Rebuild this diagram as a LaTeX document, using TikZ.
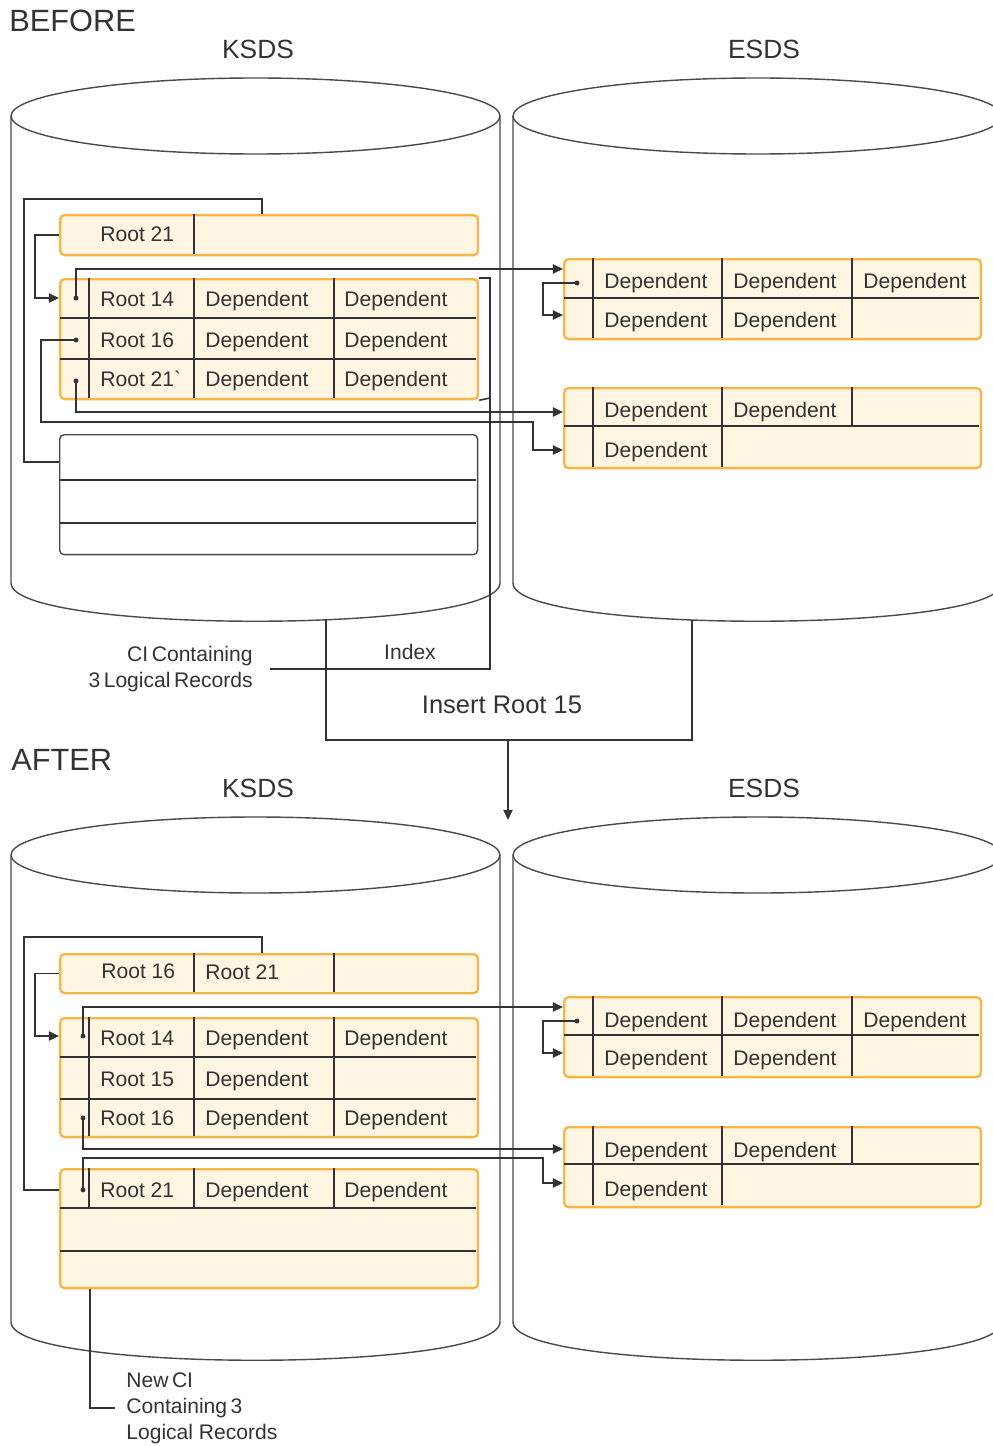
\documentclass[tikz,border=0pt]{standalone}
\usepackage{fontspec}
\setmainfont{Liberation Sans}
\usepackage{xcolor}
\usetikzlibrary{arrows.meta}
\definecolor{recfill}{HTML}{FEF5E3}
\definecolor{recedge}{HTML}{F6B545}
\definecolor{inkgray}{HTML}{333333}
\definecolor{wallgray}{HTML}{4A4A4A}

\begin{document}
\begin{tikzpicture}[x=0.02cm, y=-0.02cm,
    >={Triangle[length=5.7pt, width=5.2pt]},
    cyl/.style={draw=wallgray, line width=0.8pt},
    rec/.style={draw=recedge, fill=recfill, line width=1.3pt, rounded corners=2.5pt},
    emptyrec/.style={draw=wallgray, fill=white, line width=0.8pt, rounded corners=2.5pt},
    kbox/.style={anchor=north west, inner sep=0pt, minimum width=8.36cm},
    ebox/.style={anchor=north west, inner sep=0pt, minimum width=8.34cm, minimum height=1.6cm},
    divider/.style={draw=inkgray, line width=0.8pt},
    link/.style={draw=inkgray, line width=0.9pt},
    arrow/.style={link, ->},
    cell/.style={anchor=west, inner sep=0pt, text=inkgray, font=\fontsize{12}{14}\selectfont, text height=9pt, text depth=0.4pt},
    note/.style={inner sep=0pt, text=inkgray, font=\fontsize{12}{14.7}\selectfont},
    phase/.style={anchor=west, inner sep=0pt, text=inkgray, font=\fontsize{17.5}{20}\selectfont},
    dsname/.style={inner sep=0pt, text=inkgray, font=\fontsize{15}{18}\selectfont},
]
\useasboundingbox (0,0) rectangle (992,1446);

% cylinders
\foreach \dy in {0,739} \foreach \cx in {255.5,757.5} {
  \draw[cyl] (\cx,116+\dy) ellipse [x radius=244.5, y radius=38];
  \draw[cyl] (\cx-244.5,116+\dy) -- (\cx-244.5,583+\dy) .. controls (\cx-244.5,634+\dy) and (\cx+244.5,634+\dy) .. (\cx+244.5,583+\dy) -- (\cx+244.5,116+\dy);
}

% BEFORE
\node[phase] (before) at (9,21) {BEFORE};
\node[dsname] (ksdsA) at (258,49) {KSDS};
\node[dsname] (esdsA) at (764,49) {ESDS};
\node[rec, kbox, minimum height=0.8cm] (idxA) at (59,214) {};
\node[rec, kbox, minimum height=2.4cm] (ciA) at (59,278) {};
\node[emptyrec, kbox, minimum height=2.4cm] (freeA) at (59,434) {};
\node[rec, ebox] (esA1) at (563,258) {};
\node[rec, ebox] (esA2) at (563,387) {};
\draw[divider] (194,214) -- (194,254);
\draw[divider] (60,318) -- (476,318) (60,359) -- (476,359);
\foreach \x in {89,194,334} \draw[divider] (\x,278) -- (\x,398);
\draw[divider] (60,480) -- (476,480) (60,523) -- (476,523);
\draw[divider] (564,298) -- (979,298);
\foreach \x in {593,722,852} \draw[divider] (\x,258) -- (\x,338);
\draw[divider] (564,426) -- (979,426) (593,387) -- (593,467) (722,387) -- (722,467) (852,387) -- (852,426);

\node[cell] (rA0) at (100,234) {Root 21};
\node[cell] (rA1) at (100,299) {Root 14};
\node[cell] (rA2) at (100,340) {Root 16};
\node[cell] (rA3) at (100,379) {Root 21\textasciigrave};
\foreach \r/\y in {1/299, 2/340, 3/379} {
  \node[cell] (dA\r a) at (205,\y) {Dependent}; \node[cell] (dA\r b) at (344,\y) {Dependent};
}
\node[cell] (eA1a) at (604,281) {Dependent}; \node[cell] (eA1b) at (733,281) {Dependent}; \node[cell] (eA1c) at (863,281) {Dependent};
\node[cell] (eA2a) at (604,320) {Dependent}; \node[cell] (eA2b) at (733,320) {Dependent};
\node[cell] (eA3a) at (604,410) {Dependent}; \node[cell] (eA3b) at (733,410) {Dependent};
\node[cell] (eA4a) at (604,450) {Dependent};

\coordinate (pA14) at (76,298); \coordinate (pA16) at (76,340); \coordinate (pA21) at (76,381); \coordinate (pEA) at (577,283);
\coordinate (inA1) at (563,269); \coordinate (inA2) at (563,315); \coordinate (inA3) at (563,412); \coordinate (inA4) at (563,450);
\coordinate (kA) at (262,214); \coordinate (fA) at (59,462);
\draw[link] (kA) |- (24,199) |- (fA);
\draw[arrow] (idxA.west) -| (35,298) -- (ciA.west |- pA14);
\draw[arrow] (pA14) |- (inA1);
\draw[arrow] (pA16) -| (41,422) -| (533,450) -- (inA4);
\draw[arrow] (pA21) |- (inA3);
\draw[arrow] (pEA) -| (543,315) -- (inA2);

\node[note] (idxlbl) at (410,652) {Index};
\node[note, anchor=east, align=right] (cilbl) at (253,669) {CI\,Containing\\3\,Logical\,Records};
\draw[link] (ciA.north east) -- (490,278) |- ([xshift=0.34cm]cilbl.east);
\draw[link] (ciA.south east) -- (490,398);

\node[dsname, font=\fontsize{14.5}{17}\selectfont] (ins) at (502,705) {Insert Root 15};
\coordinate (insL) at (326,620); \coordinate (insR) at (692,620); \coordinate (insA) at (508,740); \coordinate (insB) at (508,820);
\draw[link] (insL) |- (692,740) -- (insR);
\draw[arrow] (insA) -- (insB);

% AFTER
\node[phase] (after) at (11,760) {AFTER};
\node[dsname] (ksdsB) at (258,788) {KSDS};
\node[dsname] (esdsB) at (764,788) {ESDS};
\node[rec, kbox, minimum height=0.78cm] (idxB) at (59,953) {};
\node[rec, kbox, minimum height=2.38cm] (ciB) at (59,1017) {};
\node[rec, kbox, minimum height=2.38cm] (newB) at (59,1168) {};
\node[rec, ebox] (esB1) at (563,996) {};
\node[rec, ebox] (esB2) at (563,1126) {};
\draw[divider] (194,953) -- (194,992) (334,953) -- (334,992);
\draw[divider] (60,1057) -- (476,1057) (60,1099) -- (476,1099);
\foreach \x in {89,194,334} \draw[divider] (\x,1017) -- (\x,1136);
\draw[divider] (60,1208) -- (476,1208) (60,1251) -- (476,1251);
\foreach \x in {89,194,334} \draw[divider] (\x,1168) -- (\x,1208);
\draw[divider] (564,1035) -- (979,1035);
\foreach \x in {593,722,852} \draw[divider] (\x,996) -- (\x,1076);
\draw[divider] (564,1164) -- (979,1164) (593,1126) -- (593,1205) (722,1126) -- (722,1205) (852,1126) -- (852,1164);

\node[cell] (rB0) at (101,971) {Root 16}; \node[cell] (rB0b) at (205,972) {Root 21};
\node[cell] (rB1) at (100,1038) {Root 14}; \node[cell] (dB1a) at (205,1038) {Dependent}; \node[cell] (dB1b) at (344,1038) {Dependent};
\node[cell] (rB2) at (100,1079) {Root 15}; \node[cell] (dB2a) at (205,1079) {Dependent};
\node[cell] (rB3) at (100,1118) {Root 16}; \node[cell] (dB3a) at (205,1118) {Dependent}; \node[cell] (dB3b) at (344,1118) {Dependent};
\node[cell] (rB4) at (100,1190) {Root 21}; \node[cell] (dB4a) at (205,1190) {Dependent}; \node[cell] (dB4b) at (344,1190) {Dependent};
\node[cell] (eB1a) at (604,1020) {Dependent}; \node[cell] (eB1b) at (733,1020) {Dependent}; \node[cell] (eB1c) at (863,1020) {Dependent};
\node[cell] (eB2a) at (604,1058) {Dependent}; \node[cell] (eB2b) at (733,1058) {Dependent};
\node[cell] (eB3a) at (604,1150) {Dependent}; \node[cell] (eB3b) at (733,1150) {Dependent};
\node[cell] (eB4a) at (604,1189) {Dependent};

\coordinate (pB14) at (83,1036); \coordinate (pB16) at (83,1118); \coordinate (pB21) at (83,1190); \coordinate (pEB) at (577,1021);
\coordinate (inB1) at (563,1007); \coordinate (inB2) at (563,1053); \coordinate (inB3) at (563,1149); \coordinate (inB4) at (563,1183);
\coordinate (kB) at (262,953); \coordinate (fB) at (59,1190);
\draw[link] (kB) |- (24,937) |- (fB);
\draw[arrow] (idxB.west) -| (35,1036) -- (ciB.west |- pB14);
\draw[arrow] (pB14) |- (inB1);
\draw[arrow] (pB16) |- (inB3);
\draw[arrow] (pB21) |- (543,1158) |- (inB4);
\draw[arrow] (pEB) -| (543,1053) -- (inB2);

\node[note, anchor=west, align=left] (newlbl) at (126,1408) {New\,CI\\Containing\,3\\Logical Records};
\draw[link] ([xshift=0.62cm]newB.south west) |- ([xshift=-0.22cm]newlbl.west);

\foreach \p in {pA14,pA16,pA21,pEA,pB14,pB16,pB21,pEB} \fill[inkgray] (\p) circle (1.4pt);
\end{tikzpicture}
\end{document}
